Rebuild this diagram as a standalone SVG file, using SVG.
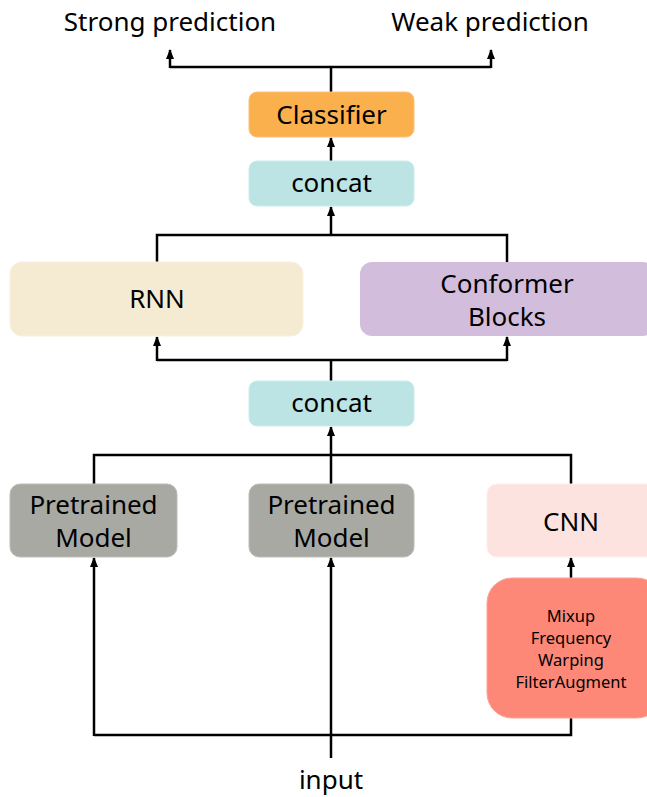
<svg xmlns="http://www.w3.org/2000/svg" width="647" height="797" viewBox="0 0 647 797">
<defs>
<marker id="ah" markerWidth="10" markerHeight="10" refX="9" refY="5" orient="auto" markerUnits="userSpaceOnUse">
<path d="M0,1 L10,5 L0,9 Z" fill="#000"/>
</marker>
<style>
.t{font-family:"Noto Sans","Open Sans",sans-serif;font-size:26px;fill:#000;text-anchor:middle}
.s{font-family:"Noto Sans","Open Sans",sans-serif;font-size:16.5px;fill:#000;text-anchor:middle}
.c{fill:none;stroke:#000;stroke-width:2.5}
.a{fill:none;stroke:#000;stroke-width:2.5;marker-end:url(#ah)}
</style>
</defs>
<rect width="647" height="797" fill="#fff"/>
<g id="connectors">
<path class="c" d="M331,92 V67 H170 M331,67 H491"/>
<path class="a" d="M170,68 V50"/>
<path class="a" d="M491,68 V50"/>
<path class="a" d="M331,161 V138"/>
<path class="c" d="M157,262 V235 H507 V262"/>
<path class="a" d="M331,235 V207"/>
<path class="c" d="M331,381 V360 H157 M331,360 H507"/>
<path class="a" d="M157,361 V337"/>
<path class="a" d="M507,361 V337"/>
<path class="c" d="M94,484 V455 H571 V484 M331,455 V484"/>
<path class="a" d="M331,456 V427"/>
<path class="a" d="M571,578 V558"/>
<path class="c" d="M571,718 V735 H94 V735"/>
<path class="a" d="M94,736 V558"/>
<path class="a" d="M331,758 V558"/>
</g>
<g id="strong"><text class="t" x="170" y="31">Strong prediction</text></g>
<g id="weak"><text class="t" x="490" y="31">Weak prediction</text></g>
<g id="classifier">
<rect x="249" y="92" width="165" height="45" rx="8" fill="#FBB04E" stroke="#FCC07A" stroke-width="1"/>
<text class="t" x="331.5" y="124">Classifier</text>
</g>
<g id="concat1">
<rect x="249" y="161" width="165" height="45" rx="8" fill="#BCE4E4" stroke="#CDEBEB" stroke-width="1"/>
<text class="t" x="331.5" y="192">concat</text>
</g>
<g id="rnn">
<rect x="10" y="262" width="293" height="74" rx="12" fill="#F5EBD2" stroke="#F8F1E1" stroke-width="1"/>
<text class="t" x="157" y="308">RNN</text>
</g>
<g id="conformer">
<rect x="360" y="262" width="295" height="74" rx="12" fill="#D3BDDD"/>
<text class="t" x="507" y="293">Conformer</text>
<text class="t" x="507" y="326">Blocks</text>
</g>
<g id="concat2">
<rect x="249" y="381" width="165" height="45" rx="8" fill="#BCE4E4" stroke="#CDEBEB" stroke-width="1"/>
<text class="t" x="331.5" y="412">concat</text>
</g>
<g id="pretrained1">
<rect x="10" y="484" width="167" height="73" rx="10" fill="#A9A9A4" stroke="#BDBDB8" stroke-width="1"/>
<text class="t" x="93.5" y="514">Pretrained</text>
<text class="t" x="93.5" y="547">Model</text>
</g>
<g id="pretrained2">
<rect x="249" y="484" width="165" height="73" rx="10" fill="#A9A9A4" stroke="#BDBDB8" stroke-width="1"/>
<text class="t" x="331.5" y="514">Pretrained</text>
<text class="t" x="331.5" y="547">Model</text>
</g>
<g id="cnn">
<rect x="487" y="484" width="170" height="73" rx="10" fill="#FDE3E0" stroke="#FDEDEB" stroke-width="1"/>
<text class="t" x="571" y="531">CNN</text>
</g>
<g id="augment">
<rect x="487" y="578" width="175" height="140" rx="25" fill="#FD8878" stroke="#FDA397" stroke-width="1"/>
<text class="s" x="571" y="622">Mixup</text>
<text class="s" x="571" y="644">Frequency</text>
<text class="s" x="571" y="666">Warping</text>
<text class="s" x="571" y="688">FilterAugment</text>
</g>
<g id="input"><text class="t" x="331" y="789">input</text></g>
</svg>
